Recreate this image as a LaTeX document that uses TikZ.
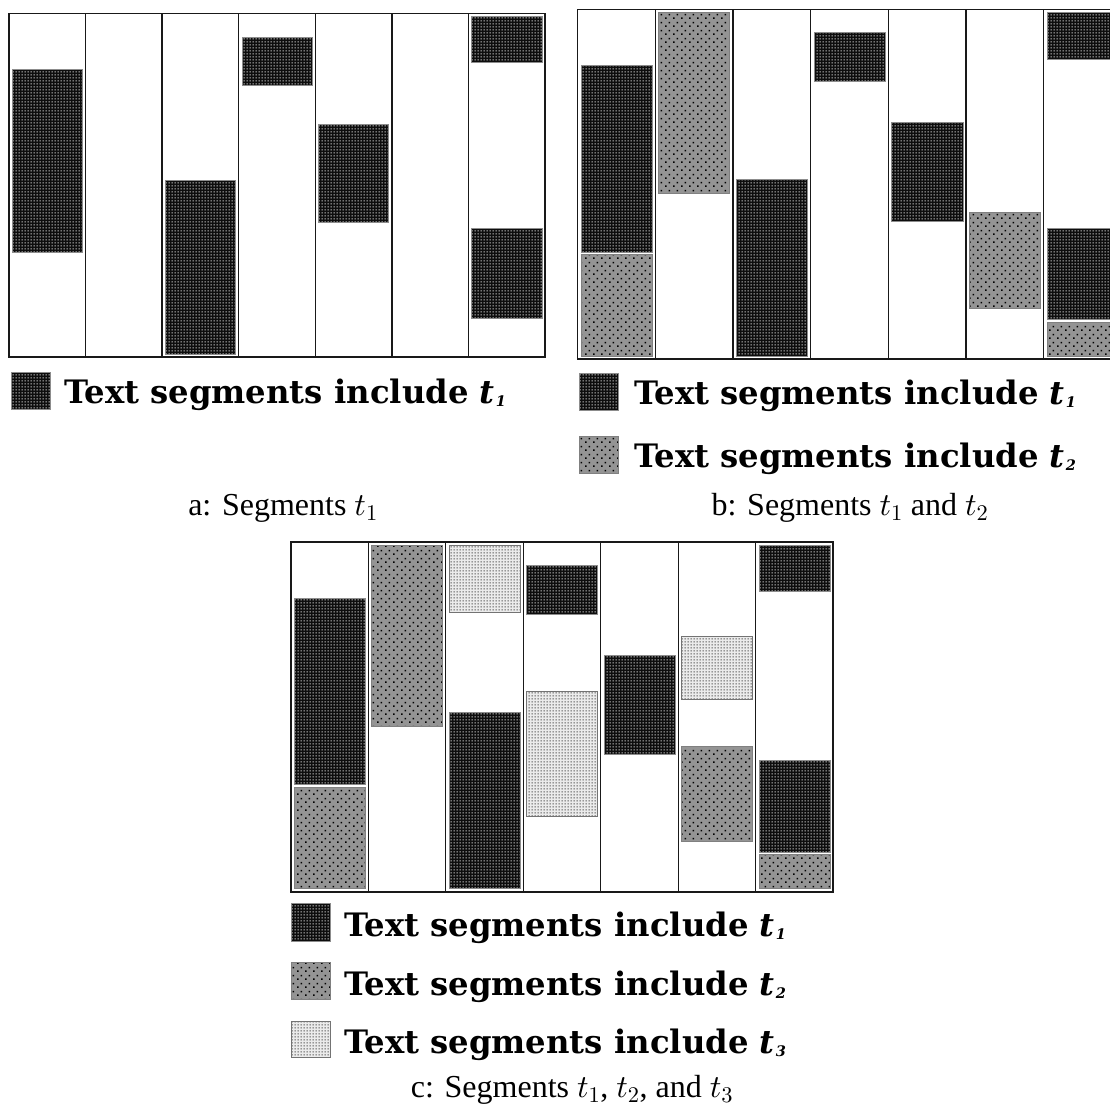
\documentclass[tikz,border=0pt]{standalone}
\usepackage{fontspec}
\newfontfamily\legfont{DejaVu Serif}
\newfontfamily\capfont{Liberation Serif}
\usetikzlibrary{patterns}
\DeclareFontShape{OML}{cmm}{m}{it}{<->cmmi10}{\skewchar\font=127}
\DeclareFontShape{OT1}{cmr}{m}{n}{<->cmr10}{}

\pgfdeclarepatternformonly{dotsdark}{\pgfqpoint{0pt}{0pt}}{\pgfqpoint{3pt}{3pt}}{\pgfqpoint{3pt}{3pt}}{%
 \pgfpathrectangle{\pgfqpoint{0.75pt}{0.75pt}}{\pgfqpoint{1.5pt}{1.5pt}}\pgfusepath{fill}}
\pgfdeclarepatternformonly{dotsmid}{\pgfqpoint{0pt}{0pt}}{\pgfqpoint{8pt}{8pt}}{\pgfqpoint{8pt}{8pt}}{%
 \pgfpathrectangle{\pgfqpoint{1.2pt}{1.2pt}}{\pgfqpoint{1.6pt}{1.6pt}}\pgfusepath{fill}%
 \pgfpathrectangle{\pgfqpoint{5.2pt}{5.2pt}}{\pgfqpoint{1.6pt}{1.6pt}}\pgfusepath{fill}}
\pgfdeclarepatternformonly{dotslight}{\pgfqpoint{0pt}{0pt}}{\pgfqpoint{2.6pt}{2.6pt}}{\pgfqpoint{2.6pt}{2.6pt}}{%
 \pgfpathrectangle{\pgfqpoint{0.8pt}{0.8pt}}{\pgfqpoint{1pt}{1pt}}\pgfusepath{fill}}

\newcommand\legt[1]{\textit{t}\kern0.03em\raisebox{-0.12em}{\fontsize{14.5}{14.5}\selectfont\textit{#1}}}
\newcommand\segbox[6]{\path[#6] ({#1+(#3-1)*#2+3.5},#4) rectangle ({#1+#3*#2-3},#5);}
\newcommand\panelgrid[4]{%
 \draw[panelbox] (#1,#3) rectangle ({#1+7*#2},#4);
 \foreach \k in {1,...,6} \draw[colline] ({#1+\k*#2},#3) -- ({#1+\k*#2},#4);}

\begin{document}
\begin{tikzpicture}[x=1pt,y=-1pt,
  panelbox/.style={draw=black!90, line width=1.7pt},
  colline/.style={draw=black!90, line width=1.4pt},
  segdark/.style={preaction={fill=black!95}, pattern=dotsdark, pattern color=white, draw=black!45, line width=0.9pt},
  segmid/.style={preaction={fill=black!42}, pattern=dotsmid, pattern color=black, draw=black!50, line width=0.9pt},
  seglight/.style={preaction={fill=black!8}, pattern=dotslight, pattern color=black!85, draw=black!55, line width=0.9pt},
  legtext/.style={anchor=base west, inner sep=0pt, font=\legfont\bfseries\fontsize{32.3}{32.3}\selectfont},
  capt/.style={anchor=base, inner sep=0pt, font=\capfont\fontsize{32}{32}\selectfont}]
\useasboundingbox (0,0) rectangle (1110,1108);
\fill[white] (0,0) rectangle (1110,1108);

% ---------- panel a ----------
\panelgrid{9}{76.57}{13.5}{357}
\segbox{9}{76.57}{1}{69}{252}{segdark}
\segbox{9}{76.57}{3}{180}{354.5}{segdark}
\segbox{9}{76.57}{4}{37.3}{85}{segdark}
\segbox{9}{76.57}{5}{124.4}{222.5}{segdark}
\segbox{9}{76.57}{7}{16.6}{62.7}{segdark}
\segbox{9}{76.57}{7}{228.5}{318.6}{segdark}
\path[segdark] (11,372) rectangle (50,409);
\node[legtext] (la1) at (64,403) {Text segments include \legt{1}};
\node[capt] (capa) at (283,515) {a: Segments $t_1$};

% ---------- panel b ----------
\panelgrid{577.5}{77.7}{9.5}{359}
\segbox{577.5}{77.7}{1}{65.2}{252}{segdark}
\segbox{577.5}{77.7}{1}{254.6}{356.7}{segmid}
\segbox{577.5}{77.7}{2}{12}{193.4}{segmid}
\segbox{577.5}{77.7}{3}{179}{356.7}{segdark}
\segbox{577.5}{77.7}{4}{32.7}{81.9}{segdark}
\segbox{577.5}{77.7}{5}{122.4}{221.8}{segdark}
\segbox{577.5}{77.7}{6}{212.8}{308.9}{segmid}
\segbox{577.5}{77.7}{7}{12.6}{59.5}{segdark}
\segbox{577.5}{77.7}{7}{228.5}{319.9}{segdark}
\segbox{577.5}{77.7}{7}{322.2}{356.7}{segmid}
\path[segdark] (579,373) rectangle (618,410);
\node[legtext] (lb1) at (634,404) {Text segments include \legt{1}};
\path[segmid] (579,436) rectangle (618,473);
\node[legtext] (lb2) at (634,467) {Text segments include \legt{2}};
\node[capt] (capb) at (850,515) {b: Segments $t_1$ and $t_2$};

% ---------- panel c ----------
\panelgrid{290.7}{77.5}{542}{891.7}
\segbox{290.7}{77.5}{1}{598.2}{784.6}{segdark}
\segbox{290.7}{77.5}{1}{787.3}{888.3}{segmid}
\segbox{290.7}{77.5}{2}{545.3}{726}{segmid}
\segbox{290.7}{77.5}{3}{545.3}{612.3}{seglight}
\segbox{290.7}{77.5}{3}{712}{888.3}{segdark}
\segbox{290.7}{77.5}{4}{565.8}{614.3}{segdark}
\segbox{290.7}{77.5}{4}{691.2}{816.4}{seglight}
\segbox{290.7}{77.5}{5}{655.4}{754.5}{segdark}
\segbox{290.7}{77.5}{6}{636}{699.6}{seglight}
\segbox{290.7}{77.5}{6}{746.1}{841.5}{segmid}
\segbox{290.7}{77.5}{7}{545.3}{591.5}{segdark}
\segbox{290.7}{77.5}{7}{760.5}{852.5}{segdark}
\segbox{290.7}{77.5}{7}{854.9}{888.3}{segmid}
\path[segdark] (291,903) rectangle (330,941);
\node[legtext] (lc1) at (344,936) {Text segments include \legt{1}};
\path[segmid] (291,962) rectangle (330,999);
\node[legtext] (lc2) at (344,995) {Text segments include \legt{2}};
\path[seglight] (291,1021) rectangle (330,1057);
\node[legtext] (lc3) at (344,1053) {Text segments include \legt{3}};
\node[capt] (capc) at (572,1097) {c: Segments $t_1$, $t_2$, and $t_3$};
\end{tikzpicture}
\end{document}
